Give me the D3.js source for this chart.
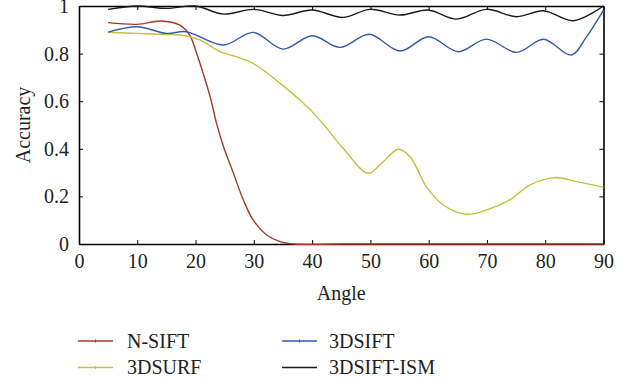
<!DOCTYPE html>
<html>
<head>
<meta charset="utf-8">
<title>Accuracy vs Angle</title>
<script src="https://d3js.org/d3.v7.min.js"></script>
<style>
  body { margin: 0; background: #fff; }
</style>
</head>
<body>
<script>
// values
var xTicks = [0, 10, 20, 30, 40, 50, 60, 70, 80, 90];
var yTicks = [0, 0.2, 0.4, 0.6, 0.8, 1];
var yTickLabels = ["0", "0.2", "0.4", "0.6", "0.8", "1"];

var nsiftAngle = [5, 10, 14, 17.3, 19, 20.2, 21.3, 22.5, 23.6, 24.8, 26.5, 28.2, 29.9, 32.2, 34.5, 37, 45, 60, 75, 90];
var nsiftAcc   = [0.93, 0.923, 0.937, 0.92, 0.878, 0.80, 0.717, 0.619, 0.507, 0.409, 0.297, 0.185, 0.10, 0.038, 0.01, 0, 0, 0, 0, 0];

var surfAngle = [5, 10, 15, 17.3, 20.8, 24.2, 27, 29.3, 31.6, 34.5, 37.9, 41, 45.4, 49.6, 51.9, 54.8, 56.8, 59.6, 62.5, 66.5, 69.9, 73.9, 77.4, 81.6, 85.4, 90];
var surfAcc   = [0.889, 0.885, 0.88, 0.878, 0.857, 0.808, 0.787, 0.766, 0.731, 0.675, 0.605, 0.53, 0.40, 0.297, 0.339, 0.398, 0.367, 0.241, 0.164, 0.125, 0.143, 0.185, 0.248, 0.279, 0.262, 0.238];

var siftAngle = [5, 10, 15, 18.4, 24.8, 29.9, 35, 40, 44.8, 49.8, 55.1, 60, 65.1, 69.9, 75.1, 79.7, 84.5, 87.1, 90];
var siftAcc   = [0.89, 0.913, 0.885, 0.892, 0.836, 0.889, 0.819, 0.875, 0.826, 0.881, 0.811, 0.871, 0.808, 0.861, 0.805, 0.86, 0.794, 0.871, 0.983];

var ismAngle = [5, 10, 15, 20, 24.8, 30, 35, 40, 45.3, 49.9, 55.1, 59.9, 64.8, 69.9, 75.1, 79.7, 84.8, 90];
var ismAcc   = [0.986, 1.0, 0.99, 1.0, 0.966, 0.986, 0.96, 0.983, 0.952, 0.986, 0.962, 0.983, 0.945, 0.986, 0.955, 0.98, 0.938, 1.0];

var seriesNames  = ["N-SIFT", "3DSURF", "3DSIFT", "3DSIFT-ISM"];
var seriesColors = ["#a23a27", "#c3c13a", "#3559b1", "#1a1a1a"];

var w = 631, h = 382;
var pLeft = 79, pRight = 603.5, pTop = 6, pBottom = 244;
var serif = "'Liberation Serif', 'DejaVu Serif', serif";
var fontSize = 20;

var svg = d3.select("body").append("svg")
  .attr("width", w).attr("height", h);

var x = d3.scaleLinear().domain([0, 90]).range([pLeft, pRight]);
var y = d3.scaleLinear().domain([0, 1]).range([pBottom, pTop]);

var line = d3.line()
  .x(function(d){ return x(d[0]); })
  .y(function(d){ return y(d[1]); })
  .curve(d3.curveCatmullRom.alpha(0.5));

var series = [
  d3.zip(nsiftAngle, nsiftAcc),
  d3.zip(surfAngle, surfAcc),
  d3.zip(siftAngle, siftAcc),
  d3.zip(ismAngle, ismAcc)
];

// frame with inward ticks on all four sides
svg.append("g").attr("transform", "translate(0," + pBottom + ")")
  .call(d3.axisBottom(x).tickValues(xTicks).tickSizeInner(-4).tickSizeOuter(0).tickPadding(10));
svg.append("g").attr("transform", "translate(0," + pTop + ")")
  .call(d3.axisTop(x).tickValues(xTicks).tickSizeInner(-4).tickSizeOuter(0).tickFormat(""));
svg.append("g").attr("transform", "translate(" + pLeft + ",0)")
  .call(d3.axisLeft(y).tickValues(yTicks).tickSizeInner(-4).tickSizeOuter(0).tickPadding(10)
    .tickFormat(function(d, i){ return yTickLabels[i]; }));
svg.append("g").attr("transform", "translate(" + pRight + ",0)")
  .call(d3.axisRight(y).tickValues(yTicks).tickSizeInner(-4).tickSizeOuter(0).tickFormat(""));

svg.selectAll(".domain").attr("stroke", "#000").attr("stroke-width", 1.6);
svg.selectAll(".tick line").attr("stroke", "#000").attr("stroke-width", 1);
svg.selectAll(".tick text")
  .attr("font-family", serif).attr("font-size", fontSize).attr("fill", "#231f20");

// series lines
svg.selectAll("path.series")
  .data(series)
  .enter()
  .append("path")
  .attr("class", "series")
  .attr("d", line)
  .attr("fill", "none")
  .attr("stroke", function(d, i){ return seriesColors[i]; })
  .attr("stroke-width", 1.4);

// axis titles
svg.append("text")
  .attr("x", (pLeft + pRight) / 2).attr("y", 300)
  .attr("text-anchor", "middle")
  .attr("font-family", serif).attr("font-size", fontSize).attr("fill", "#231f20")
  .text("Angle");
svg.append("text")
  .attr("transform", "translate(30," + (pTop + pBottom) / 2 + ") rotate(-90)")
  .attr("text-anchor", "middle")
  .attr("font-family", serif).attr("font-size", fontSize).attr("fill", "#231f20")
  .text("Accuracy");

// legend, two columns
var legend = svg.selectAll("g.legend")
  .data(seriesNames)
  .enter()
  .append("g")
  .attr("class", "legend")
  .attr("transform", function(d, i){
    return "translate(" + (i < 2 ? 78 : 282) + "," + (i % 2 === 0 ? 341 : 367.5) + ")";
  });
legend.append("line")
  .attr("x1", 0).attr("x2", 35).attr("y1", 0).attr("y2", 0)
  .attr("stroke", function(d, i){ return seriesColors[i]; })
  .attr("stroke-width", 1.4);
legend.filter(function(d, i){ return i < 3; }).append("line")
  .attr("x1", 17.5).attr("x2", 17.5).attr("y1", -1.5).attr("y2", 1.5)
  .attr("stroke", function(d){ return seriesColors[seriesNames.indexOf(d)]; })
  .attr("stroke-width", 1);
legend.append("text")
  .attr("x", function(d, i){ return i < 2 ? 49 : 47; })
  .attr("y", 6.5)
  .attr("font-family", serif).attr("font-size", fontSize).attr("fill", "#231f20")
  .text(function(d){ return d; });
</script>
</body>
</html>
